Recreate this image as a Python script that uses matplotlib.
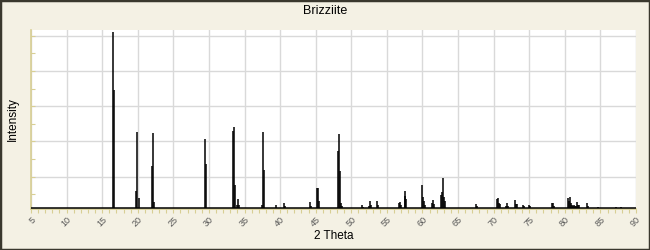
import numpy as np
import matplotlib
matplotlib.use("Agg")
import matplotlib.pyplot as plt
from matplotlib.patches import Rectangle

# peak positions (2 theta) and relative intensities
two_theta = [16.55, 16.65, 19.80, 19.94, 20.13, 22.04, 22.18, 22.32,
             29.49, 29.59, 33.43, 33.57, 33.62, 33.90, 34.04, 34.20,
             37.50, 37.64, 37.73, 39.37, 40.59, 40.70, 44.24, 44.40,
             45.22, 45.36, 45.50, 48.18, 48.31, 48.45, 48.55, 48.70,
             51.55, 51.70, 52.53, 52.67, 52.77, 53.65, 53.79,
             56.65, 56.80, 56.94, 57.50, 57.59, 57.73,
             59.97, 60.11, 60.25, 60.39, 61.38, 61.52, 61.66,
             62.64, 62.78, 62.92, 63.06, 63.20, 67.52, 67.66,
             70.51, 70.65, 70.80, 70.93, 71.78, 71.92, 72.06,
             73.00, 73.16, 73.30, 74.17, 74.30, 75.00, 75.14,
             78.24, 78.38, 78.52, 80.49, 80.63, 80.77, 80.90, 81.06, 81.20,
             81.34, 81.48, 81.60, 81.76, 81.90, 82.05, 83.10, 83.23,
             84.70, 87.23, 87.93]
intensity = [100, 67, 10, 43.5, 6, 24, 43, 3.5,
             39.5, 25, 44, 46, 13, 1.7, 5.3, 1.7,
             1.7, 43.5, 22, 1.7, 2.8, 1.2, 3.4, 1.5,
             11.7, 11.3, 4, 32.8, 42.4, 21, 2.8, 1.1,
             1.7, 1.0, 1.1, 4, 1.7, 4, 1.7,
             2.8, 3.4, 1.7, 6.8, 9.6, 5.1,
             13, 6.2, 4, 1.7, 2.8, 4.5, 2.3,
             7.3, 9, 17, 6.2, 4, 2.3, 1.1,
             5.1, 5.6, 2.8, 2.3, 1.1, 2.8, 1.1,
             4.5, 2.3, 2.3, 1.7, 1.1, 1.7, 1.1,
             2.8, 2.8, 1.1, 5.6, 4, 6.2, 2.8, 1.7, 1.1,
             1.7, 1.1, 1.1, 3.4, 1.7, 1.7, 2.8, 1.1,
             0.6, 0.5, 0.5]

BG = "#f4f1e4"
AXIS = "#d8cf94"
GRID = "#d9d9d9"

plt.rcParams["font.family"] = ["Liberation Sans", "DejaVu Sans"]
fig = plt.figure(figsize=(6.5, 2.5), dpi=100, facecolor=BG)
ax = fig.add_axes([31 / 650, 41 / 250, 605 / 650, 179 / 250])
ax.set_facecolor("white")

ax.axhline(0, color="black", lw=1.1, zorder=3)
ax.vlines(two_theta, 0, intensity, color="black", lw=1.1, zorder=3)

ax.set_xlim(5, 90)
ax.set_ylim(-0.4, 101.3)
ax.set_xticks(np.arange(5, 91, 5))
ax.set_xticks(np.arange(5, 91, 1), minor=True)
ax.set_yticks(np.arange(18, 100, 20))
ax.set_yticks(np.arange(8, 100, 20), minor=True)
ax.grid(True, which="major", color=GRID, lw=1)
ax.set_axisbelow(True)

for s in ["top", "right"]:
    ax.spines[s].set_visible(False)
for s in ["left", "bottom"]:
    ax.spines[s].set_color(AXIS)
    ax.spines[s].set_linewidth(1.2)

ax.tick_params(axis="x", which="both", direction="out", length=3, width=0.8,
               color=AXIS, labelsize=6.5, labelcolor="#555555", pad=1.5)
ax.tick_params(axis="y", which="both", direction="in", length=3, width=0.8,
               color=AXIS, labelleft=False)
for lab in ax.get_xticklabels():
    lab.set_rotation(45)
    lab.set_ha("right")
    lab.set_rotation_mode("anchor")

ax.set_xlabel("2 Theta", fontsize=8.5, labelpad=1)
ax.set_ylabel("Intensity", fontsize=8.5, labelpad=9)
fig.text(0.5, 0.958, "Brizziite", ha="center", va="center", fontsize=9)

fig.patches.append(Rectangle((0, 0), 1, 1, transform=fig.transFigure,
                             fill=False, edgecolor="#3a382e", lw=2.5))

fig.savefig("out.png", dpi=100, facecolor=BG)
